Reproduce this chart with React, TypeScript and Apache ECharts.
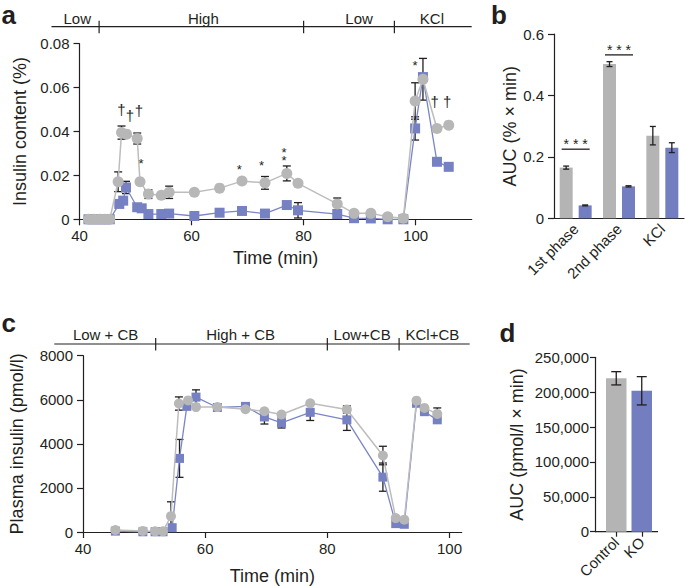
import React, { useEffect, useRef } from 'react';
import * as echarts from 'echarts';

// ---------- Panel a: insulin content (%) ----------
const aCtrlTime = [41.6, 42.6, 43.6, 44.5, 45.4, 46.9, 47.5, 48.4, 50.3, 50.8, 52.3, 54.6, 56, 60.5, 65, 69, 73.1, 77, 79, 86, 89, 92, 95, 97.8, 99.9, 101.3, 103.8, 105.9];
const aCtrlVal = [0, 0, 0, 0, 0, 0.0171, 0.0395, 0.0388, 0.0368, 0.0171, 0.0115, 0.011, 0.0123, 0.0123, 0.0142, 0.0174, 0.0166, 0.0209, 0.0164, 0.007, 0.0027, 0.0027, 0.0012, 0.0005, 0.0539, 0.0638, 0.0414, 0.0429];
const aCtrlErr = [0, 0, 0, 0, 0, 0.0045, 0.003, 0, 0.0025, 0, 0.002, 0, 0.0028, 0, 0, 0, 0.0029, 0.0034, 0, 0.0027, 0, 0, 0, 0, 0.0083, 0.0095, 0, 0];
const aKoTime = [41.6, 42.6, 43.6, 44.5, 45.4, 47.1, 47.8, 48.3, 50.3, 51.1, 52.3, 54.6, 56, 60.5, 65, 69, 73.1, 77, 79, 86, 89, 92, 95, 97.8, 99.9, 101.3, 103.8, 105.9];
const aKoVal = [0, 0, 0, 0, 0, 0.007, 0.0085, 0.0145, 0.0055, 0.005, 0.0024, 0.0024, 0.0026, 0.0015, 0.003, 0.0038, 0.0026, 0.0065, 0.0041, 0.0024, 0.0005, 0.0004, 0, 0, 0.0414, 0.0648, 0.0262, 0.0239];
const aKoErr = [0, 0, 0, 0, 0, 0, 0, 0.0028, 0, 0, 0, 0, 0, 0, 0, 0, 0, 0, 0.0035, 0.001, 0, 0, 0, 0, 0.0053, 0, 0, 0];
const aMarkTime = [47.5, 49.0, 50.6, 51.0, 68.5, 72.5, 76.5, 99.9, 103.4, 105.6];
const aMarkValue = [0.050, 0.0474, 0.0497, 0.027, 0.0242, 0.026, 0.0299, 0.0716, 0.0535, 0.0535];
const aMarkText = ['†', '†', '†', '*', '*', '*', '*\n*', '*', '†', '†'];
const aTicks = [40, 60, 80, 100];
const aHeaderLabels = ['Low', 'High', 'Low', 'KCl'];
const aHeaderLabelTime = [39.6, 62.1, 89.9, 102.9];
const aHeaderBounds = [43.5, 80, 96.2];
const aHeaderExtent = [35, 110];

// ---------- Panel b: AUC (% x min) ----------
const bCategories = ['1st phase', '2nd phase', 'KCl'];
const bCtrl = [0.165, 0.502, 0.269];
const bCtrlErr = [0.005, 0.008, 0.03];
const bKo = [0.042, 0.104, 0.23];
const bKoErr = [0.0015, 0.002, 0.016];
const bSigCat = [0, 1];
const bSigLevel = [0.225, 0.532];
const bSigText = ['* * *', '* * *'];

// ---------- Panel c: plasma insulin (pmol/l) ----------
const cCtrlTime = [45.3, 49.8, 51.8, 53.1, 54.4, 55.7, 57.2, 58.5, 62.0, 66.6, 69.7, 72.5, 77.2, 83.2, 89.1, 91.2, 92.6, 94.6, 95.9, 98.0];
const cCtrlVal = [90, 50, 30, 30, 720, 5830, 5970, 5670, 5670, 5570, 5480, 5330, 5840, 5560, 3470, 630, 560, 5960, 5630, 5360];
const cCtrlErr = [0, 0, 0, 0, 650, 300, 0, 0, 0, 0, 0, 0, 0, 160, 420, 0, 0, 0, 0, 270];
const cKoTime = [45.3, 49.8, 51.8, 53.1, 54.6, 55.8, 57.0, 58.5, 62.0, 66.6, 69.7, 72.5, 77.2, 83.2, 89.1, 91.2, 92.6, 94.6, 95.9, 98.0];
const cKoVal = [40, 10, 10, 10, 195, 3340, 5700, 6120, 5650, 5700, 5220, 4950, 5430, 5090, 2490, 380, 350, 5840, 5460, 5090];
const cKoErr = [0, 0, 0, 0, 0, 860, 0, 330, 0, 0, 320, 230, 370, 480, 640, 0, 0, 0, 0, 0];
const cTicks = [40, 60, 80, 100];
const cHeaderLabels = ['Low + CB', 'High + CB', 'Low+CB', 'KCl+CB'];
const cHeaderLabelTime = [43.7, 65.8, 85.7, 97.2];
const cHeaderBounds = [51.9, 80, 91.75];
const cHeaderExtent = [35.3, 103.3];

// ---------- Panel d: AUC (pmol/l x min) ----------
const dCategories = ['Control', 'KO'];
const dValues = [219900, 202000];
const dErr = [9500, 20300];

const FONT = 'Liberation Sans, Arial, Helvetica, sans-serif';
const INK = '#231f20';
const GRAY = '#b7b7b7';
const GRAY_LINE = '#bdbdbd';
const BLUE = '#7581c2';
const BLUE_LINE = '#7a86c6';
const GRAY_BAR = '#b4b4b4';
const BLUE_BAR = '#727ebf';

function errorSeries(ax: number, xs: number[], ys: number[], es: number[], cap: number, offset: number, z: number) {
  const data = xs.map((x, i) => [x, ys[i], es[i]]).filter((d) => d[2] > 0);
  return {
    type: 'custom',
    xAxisIndex: ax,
    yAxisIndex: ax,
    z,
    silent: true,
    clip: false,
    encode: { x: 0, y: 1 },
    data,
    renderItem: (params: any, api: any) => {
      const x = api.value(0);
      const y = api.value(1);
      const e = api.value(2);
      const hi = api.coord([x, y + e]);
      const lo = api.coord([x, Math.max(0, y - e)]);
      const px = hi[0] + offset;
      const st = { stroke: INK, lineWidth: 1.3 };
      return {
        type: 'group',
        children: [
          { type: 'line', shape: { x1: px, y1: hi[1], x2: px, y2: lo[1] }, style: st },
          { type: 'line', shape: { x1: px - cap / 2, y1: hi[1], x2: px + cap / 2, y2: hi[1] }, style: st },
          { type: 'line', shape: { x1: px - cap / 2, y1: lo[1], x2: px + cap / 2, y2: lo[1] }, style: st },
        ],
      };
    },
  };
}

const axisLineStyle = { color: INK, width: 1.2 };
const labelStyle = { color: INK, fontSize: 15, fontFamily: FONT };
const nameStyle = { color: INK, fontSize: 18, fontFamily: FONT };

function textEl(x: number, y: number, text: string, size: number, weight = 'normal', align = 'center', lineHeight?: number) {
  return {
    type: 'text',
    x,
    y,
    silent: true,
    style: {
      text,
      fill: INK,
      font: `${weight} ${size}px ${FONT}`,
      align,
      verticalAlign: 'middle',
      textAlign: align,
      textVerticalAlign: 'middle',
      ...(lineHeight ? { lineHeight } : {}),
    },
  };
}

export default function App() {
  const ref = useRef<HTMLDivElement>(null);

  useEffect(() => {
    if (!ref.current) return;
    const chart = echarts.init(ref.current, undefined, { renderer: 'svg' });

    const option: any = {
      animation: false,
      backgroundColor: '#ffffff',
      textStyle: { fontFamily: FONT },
      grid: [
        { left: 79.5, top: 43.7, width: 392.2, height: 175.6 },
        { left: 554, top: 34, width: 130, height: 184.3 },
        { left: 79, top: 355.7, width: 382.7, height: 176.3 },
        { left: 603.5, top: 357.3, width: 51, height: 174.4 },
      ],
      xAxis: [
        {
          type: 'value', gridIndex: 0, min: 40, max: 110, interval: 20,
          splitLine: { show: false },
          axisLine: { lineStyle: axisLineStyle },
          axisTick: { customValues: aTicks, length: 6, lineStyle: axisLineStyle },
          axisLabel: { customValues: aTicks, margin: 9, ...labelStyle },
          name: 'Time (min)', nameLocation: 'middle', nameGap: 30, nameTextStyle: nameStyle,
        },
        {
          type: 'category', gridIndex: 1, data: bCategories,
          axisLine: { lineStyle: axisLineStyle },
          axisTick: { alignWithLabel: true, length: 5, lineStyle: axisLineStyle },
          axisLabel: { rotate: 45, margin: 8, interval: 0, ...labelStyle },
        },
        {
          type: 'value', gridIndex: 2, min: 40, max: 102, interval: 20,
          splitLine: { show: false },
          axisLine: { lineStyle: axisLineStyle },
          axisTick: { customValues: cTicks, length: 6, lineStyle: axisLineStyle },
          axisLabel: { customValues: cTicks, margin: 9, ...labelStyle },
          name: 'Time (min)', nameLocation: 'middle', nameGap: 35, nameTextStyle: nameStyle,
        },
        {
          type: 'category', gridIndex: 3, data: dCategories,
          axisLine: { show: false },
          axisTick: { show: true, alignWithLabel: true, interval: 0, length: 5, lineStyle: axisLineStyle },
          axisLabel: { rotate: 45, margin: 8, interval: 0, hideOverlap: false, ...labelStyle },
        },
      ],
      yAxis: [
        {
          type: 'value', gridIndex: 0, min: 0, max: 0.08, interval: 0.02,
          splitLine: { show: false },
          axisLine: { show: true, lineStyle: axisLineStyle },
          axisTick: { show: true, length: 6, lineStyle: axisLineStyle },
          axisLabel: { margin: 10, formatter: (v: number) => (v === 0 ? '0' : v.toFixed(2)), ...labelStyle },
          name: 'Insulin content (%)', nameLocation: 'middle', nameGap: 51, nameTextStyle: nameStyle,
        },
        {
          type: 'value', gridIndex: 1, min: 0, max: 0.6, interval: 0.2,
          splitLine: { show: false },
          axisLine: { show: true, lineStyle: axisLineStyle },
          axisTick: { show: true, length: 6, lineStyle: axisLineStyle },
          axisLabel: { margin: 10, formatter: (v: number) => (v === 0 ? '0' : v.toFixed(1)), ...labelStyle },
          name: 'AUC (% × min)', nameLocation: 'middle', nameGap: 33, nameTextStyle: nameStyle,
        },
        {
          type: 'value', gridIndex: 2, min: 0, max: 8000, interval: 2000,
          splitLine: { show: false },
          axisLine: { show: true, lineStyle: axisLineStyle },
          axisTick: { show: true, length: 6, lineStyle: axisLineStyle },
          axisLabel: { margin: 10, formatter: (v: number) => String(Math.round(v)), ...labelStyle },
          name: 'Plasma insulin (pmol/l)', nameLocation: 'middle', nameGap: 57, nameTextStyle: nameStyle,
        },
        {
          type: 'value', gridIndex: 3, min: 0, max: 250000, interval: 50000, offset: 8.5,
          splitLine: { show: false },
          axisLine: { show: true, lineStyle: axisLineStyle },
          axisTick: { show: true, length: 5, lineStyle: axisLineStyle },
          axisLabel: {
            margin: 6,
            formatter: (v: number) => v.toLocaleString('en-US'),
            ...labelStyle,
          },
          name: 'AUC (pmol/l × min)', nameLocation: 'middle', nameGap: 69, nameTextStyle: nameStyle,
        },
      ],
      series: [
        // panel a
        errorSeries(0, aKoTime, aKoVal, aKoErr, 8, 0, 1),
        errorSeries(0, aCtrlTime, aCtrlVal, aCtrlErr, 8, 0, 1),
        {
          type: 'line', xAxisIndex: 0, yAxisIndex: 0, z: 3,
          data: aKoTime.map((t, i) => [t, aKoVal[i]]),
          symbol: 'rect', symbolSize: 10,
          lineStyle: { color: BLUE_LINE, width: 1.3 },
          itemStyle: { color: BLUE },
        },
        {
          type: 'line', xAxisIndex: 0, yAxisIndex: 0, z: 4,
          data: aCtrlTime.map((t, i) => [t, aCtrlVal[i]]),
          symbol: 'circle', symbolSize: 11,
          lineStyle: { color: GRAY_LINE, width: 1.5 },
          itemStyle: { color: GRAY },
        },
        {
          type: 'custom', xAxisIndex: 0, yAxisIndex: 0, z: 5, silent: true, clip: false,
          data: aMarkTime.map((t, i) => [t, aMarkValue[i]]),
          encode: { x: 0, y: 1 },
          renderItem: (params: any, api: any) => {
            const p = api.coord([api.value(0), api.value(1)]);
            const t = aMarkText[params.dataIndex];
            const star = t.indexOf('*') >= 0;
            return textEl(p[0], p[1] + (star ? 3 : 0), t, star ? 13 : 15, 'normal', 'center', star ? 8.5 : undefined);
          },
        },
        // panel b
        {
          type: 'bar', xAxisIndex: 1, yAxisIndex: 1, z: 2,
          data: bCtrl, barWidth: 13, barGap: '46%',
          itemStyle: { color: GRAY_BAR },
        },
        {
          type: 'bar', xAxisIndex: 1, yAxisIndex: 1, z: 2,
          data: bKo, barWidth: 13, barGap: '46%',
          itemStyle: { color: BLUE_BAR },
        },
        errorSeries(1, bCtrl.map((_, i) => i), bCtrl, bCtrlErr, 6, -9.5, 3),
        errorSeries(1, bKo.map((_, i) => i), bKo, bKoErr, 6, 9.5, 3),
        {
          type: 'custom', xAxisIndex: 1, yAxisIndex: 1, z: 5, silent: true, clip: false,
          data: bSigCat.map((c, i) => [c, bSigLevel[i]]),
          encode: { x: 0, y: 1 },
          renderItem: (params: any, api: any) => {
            const p = api.coord([api.value(0), api.value(1)]);
            return {
              type: 'group',
              children: [
                { type: 'line', shape: { x1: p[0] - 14, y1: p[1], x2: p[0] + 14, y2: p[1] }, style: { stroke: INK, lineWidth: 1.3 } },
                textEl(p[0], p[1] - 5, bSigText[params.dataIndex], 14),
              ],
            };
          },
        },
        // panel c
        errorSeries(2, cKoTime, cKoVal, cKoErr, 8, 0, 1),
        errorSeries(2, cCtrlTime, cCtrlVal, cCtrlErr, 8, 0, 1),
        {
          type: 'line', xAxisIndex: 2, yAxisIndex: 2, z: 3,
          data: cKoTime.map((t, i) => [t, cKoVal[i]]),
          symbol: 'rect', symbolSize: 9,
          lineStyle: { color: BLUE_LINE, width: 1.3 },
          itemStyle: { color: BLUE },
        },
        {
          type: 'line', xAxisIndex: 2, yAxisIndex: 2, z: 4,
          data: cCtrlTime.map((t, i) => [t, cCtrlVal[i]]),
          symbol: 'circle', symbolSize: 10,
          lineStyle: { color: GRAY_LINE, width: 1.5 },
          itemStyle: { color: GRAY },
        },
        // panel d
        {
          type: 'bar', xAxisIndex: 3, yAxisIndex: 3, z: 2,
          barWidth: 20.5,
          data: dValues.map((v, i) => ({ value: v, itemStyle: { color: i === 0 ? GRAY_BAR : BLUE_BAR } })),
        },
        errorSeries(3, dValues.map((_, i) => i), dValues, dErr, 10, 0, 3),
      ],
    };

    chart.setOption(option);

    const xa = (t: number) => chart.convertToPixel({ xAxisIndex: 0 }, t) as number;
    const xc = (t: number) => chart.convertToPixel({ xAxisIndex: 2 }, t) as number;
    const dZero = chart.convertToPixel({ yAxisIndex: 3 }, 0) as number;
    const dAxisX = 595;
    const lineSt = { stroke: INK, lineWidth: 1.2 };

    const header = (fx: (t: number) => number, extent: number[], bounds: number[], labels: string[], labelT: number[], yLine: number, yText: number) => {
      const els: any[] = [];
      els.push({ type: 'line', silent: true, shape: { x1: fx(extent[0]), y1: yLine, x2: fx(extent[1]), y2: yLine }, style: lineSt });
      bounds.forEach((b) => {
        els.push({ type: 'line', silent: true, shape: { x1: fx(b), y1: yLine - 6, x2: fx(b), y2: yLine + 6.5 }, style: lineSt });
      });
      labels.forEach((l, i) => els.push(textEl(fx(labelT[i]), yText, l, 15)));
      return els;
    };

    chart.setOption({
      graphic: [
        ...header(xa, aHeaderExtent, aHeaderBounds, aHeaderLabels, aHeaderLabelTime, 26.7, 18),
        ...header(xc, cHeaderExtent, cHeaderBounds, cHeaderLabels, cHeaderLabelTime, 344, 334),
        { type: 'line', silent: true, shape: { x1: dAxisX, y1: dZero, x2: 658, y2: dZero }, style: lineSt },
        textEl(1.5, 14.5, 'a', 26, 'bold', 'left'),
        textEl(491, 14.5, 'b', 26, 'bold', 'left'),
        textEl(1.5, 322.7, 'c', 26, 'bold', 'left'),
        textEl(499.5, 332.7, 'd', 26, 'bold', 'left'),
      ],
    });

    return () => chart.dispose();
  }, []);

  return (
    <div
      ref={ref}
      style={{ position: 'absolute', left: 0, top: 0, width: 685, height: 586, background: '#fff' }}
    />
  );
}
